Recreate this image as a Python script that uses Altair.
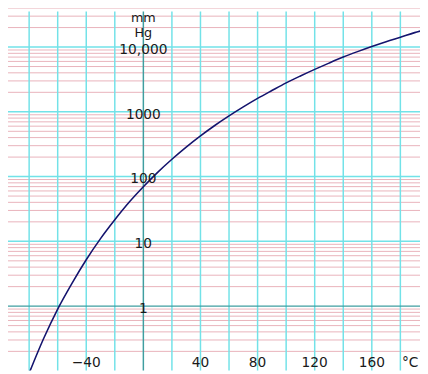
import altair as alt
import pandas as pd

# Vapour pressure curve (temperature °C, pressure mm Hg)
temp_c = [-80, -70, -60, -50, -40, -30, -20, -10, 0, 10, 20, 30, 40, 50, 60, 70,
          80, 90, 100, 110, 120, 130, 140, 150, 160, 170, 180, 190, 194]
press_mmhg = [0.092, 0.31, 0.90, 2.25, 5.2, 11, 21.5, 40, 69.5, 116, 185, 285, 425, 615, 865, 1190,
              1610, 2130, 2800, 3580, 4520, 5650, 7000, 8500, 10200, 12100, 14200, 16700, 17700]

# Grid
vgrid_temps = [-100, -80, -60, -40, -20, 20, 40, 60, 80, 100, 120, 140, 160, 180]
axis_temp = [0]
decades = [0.1, 1, 10, 100, 1000, 10000]
major_press = [10, 100, 1000, 10000]
axis_press = [1]
minor_mult = [2, 3, 4, 5, 6, 7, 8, 9]
minor_press = [m * d for d in decades for m in minor_mult]

# Tick labels
ylab_vals = [1, 10, 100, 1000, 10000]
ylab_text = ["1", "10", "100", "1000", "10,000"]
xlab_vals = [-40, 40, 80, 120, 160]
xlab_text = ["\u221240", "40", "80", "120", "160"]

W, H = 420, 366
xscale = alt.Scale(domain=[-94.8, 193.75], nice=False, zero=False)
yscale = alt.Scale(type="log", domain=[0.1013, 35410], nice=False)

PINK = "#e9b3bb"
CYAN = "#72e2e8"
TEAL = "#3f9ea0"
NAVY = "#14146e"
FONT = "DejaVu Sans"

curve = pd.DataFrame({"t": temp_c, "p": press_mmhg})

pink = alt.Chart(pd.DataFrame({"p": minor_press})).mark_rule(
    color=PINK, strokeWidth=1).encode(y=alt.Y("p:Q", scale=yscale, axis=None))
cyan_h = alt.Chart(pd.DataFrame({"p": major_press})).mark_rule(
    color=CYAN, strokeWidth=1.5).encode(y=alt.Y("p:Q", scale=yscale, axis=None))
cyan_v = alt.Chart(pd.DataFrame({"t": vgrid_temps})).mark_rule(
    color=CYAN, strokeWidth=1.5).encode(x=alt.X("t:Q", scale=xscale, axis=None))
teal_h = alt.Chart(pd.DataFrame({"p": axis_press})).mark_rule(
    color=TEAL, strokeWidth=1.5).encode(y=alt.Y("p:Q", scale=yscale, axis=None))
teal_v = alt.Chart(pd.DataFrame({"t": axis_temp})).mark_rule(
    color=TEAL, strokeWidth=1.5).encode(x=alt.X("t:Q", scale=xscale, axis=None))

line = alt.Chart(curve).mark_line(
    color=NAVY, strokeWidth=1.6, clip=True, interpolate="monotone").encode(
    x=alt.X("t:Q", scale=xscale, axis=None),
    y=alt.Y("p:Q", scale=yscale, axis=None))

ylabels = alt.Chart(pd.DataFrame({"p": ylab_vals, "lab": ylab_text, "t": [0] * 5})).mark_text(
    font=FONT, fontSize=14, color="#1a1a1a", align="center", baseline="middle", dy=3).encode(
    x=alt.X("t:Q", scale=xscale, axis=None),
    y=alt.Y("p:Q", scale=yscale, axis=None),
    text="lab:N")

xlabels = alt.Chart(pd.DataFrame({"t": xlab_vals, "lab": xlab_text})).mark_text(
    font=FONT, fontSize=14, color="#1a1a1a", align="center", baseline="middle").encode(
    x=alt.X("t:Q", scale=xscale, axis=None),
    y=alt.value(358),
    text="lab:N")

unit_x = alt.Chart(pd.DataFrame({"lab": ["\u00b0C"]})).mark_text(
    font=FONT, fontSize=14, color="#1a1a1a", align="center", baseline="middle").encode(
    x=alt.value(410), y=alt.value(358), text="lab:N")

unit_y = alt.Chart(pd.DataFrame({"lab": ["mm", "Hg"], "t": [0, 0], "yy": [7, 22]})).mark_text(
    font=FONT, fontSize=13, color="#1a1a1a", align="center", baseline="middle").encode(
    x=alt.X("t:Q", scale=xscale, axis=None),
    y=alt.Y("yy:Q", scale=None, axis=None),
    text="lab:N")

chart = alt.layer(pink, cyan_h, cyan_v, teal_h, teal_v, line, ylabels, xlabels, unit_x, unit_y).properties(
    width=W, height=H, padding=0, autosize=alt.AutoSizeParams(type="none"),
    background="white"
).configure_view(stroke=None)

chart.save("out.html", embed_options={"renderer": "svg", "actions": False})
